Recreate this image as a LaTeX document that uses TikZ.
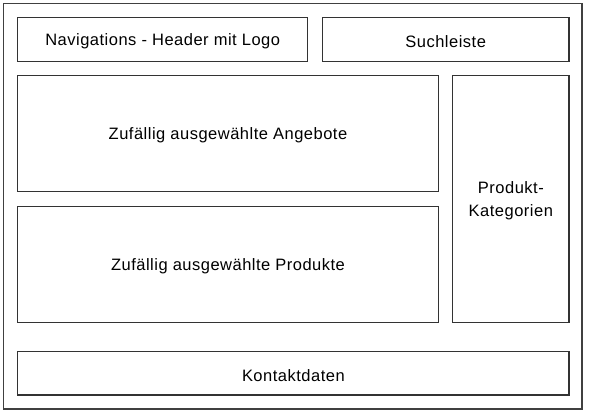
\documentclass[tikz,border=0pt]{standalone}
\usepackage{fontspec}
\setmainfont{Liberation Sans}
\newfontfamily\lblfont[LetterSpace=3]{Liberation Sans}
\begin{document}
\begin{tikzpicture}[x=1pt,y=-1pt,
  box/.style={draw=black!80,line width=1.4pt},
  lbl/.style={font=\lblfont\fontsize{16.5}{23}\selectfont,align=center,text=black,yshift=-2pt}]
\useasboundingbox[fill=white] (0,0) rectangle (591,416);
\draw[draw=black!75,line width=1.2pt] (3.5,3.5) rectangle (582,409);
\draw[box] (17.7,17.7) rectangle (307.7,61.7) node[lbl,midway] (nav) {Navigations - Header mit Logo};
\draw[box] (322.3,17.7) rectangle (569,61.7) node[lbl,midway] (such) {Suchleiste};
\draw[box] (17.7,75.3) rectangle (438.3,191.7) node[lbl,midway] (ang) {Zufällig ausgewählte Angebote};
\draw[box] (17.7,206.3) rectangle (438.3,322.3) node[lbl,midway] (prod) {Zufällig ausgewählte Produkte};
\draw[box] (452.7,75.3) rectangle (569,322.3) node[lbl,midway] (kat) {Produkt-\\Kategorien};
\draw[box] (17.7,351.7) rectangle (569,395) node[lbl,midway] (kon) {Kontaktdaten};
\end{tikzpicture}
\end{document}
